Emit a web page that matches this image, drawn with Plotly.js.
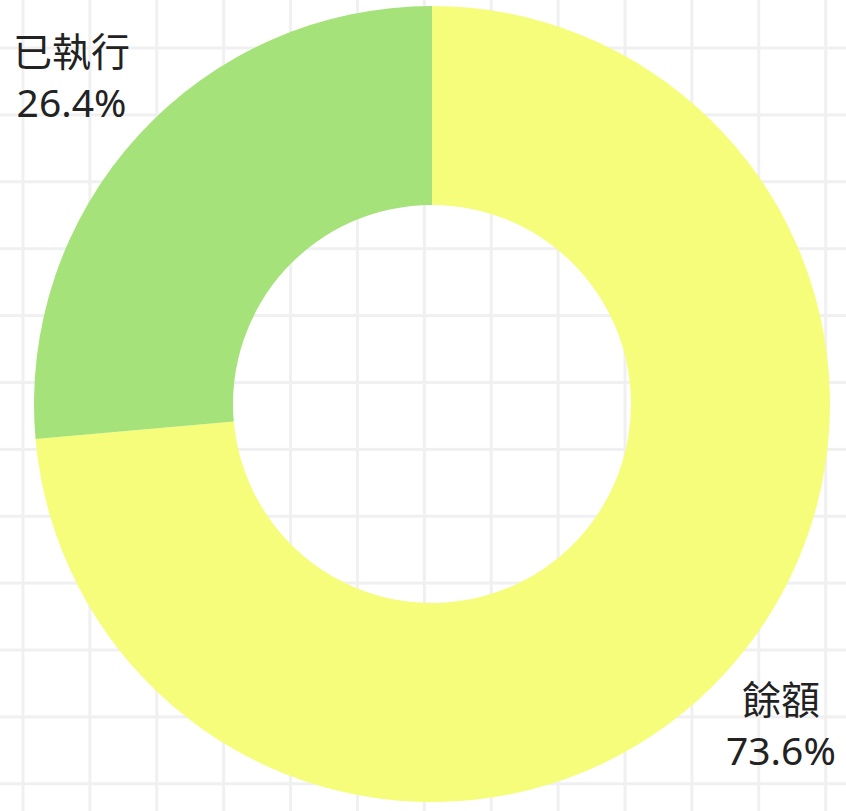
<!DOCTYPE html>
<html>
<head>
<meta charset="utf-8">
<script src="https://cdn.plot.ly/plotly-3.0.1.min.js"></script>
<style>
  html, body { margin: 0; padding: 0; }
  body {
    width: 846px; height: 811px; overflow: hidden;
    background-color: #ffffff;
    background-image:
      linear-gradient(to bottom, #f0f0f0 3px, transparent 3px),
      linear-gradient(to right, #f0f0f0 3px, transparent 3px);
    background-size: 66.9px 66.9px;
    background-position: 21.5px 46.5px;
  }
  #chart { width: 846px; height: 811px; }
</style>
</head>
<body>
<div id="chart"></div>
<script>
const labels = ['餘額', '已執行'];
const values = [73.6, 26.4];
const colors = ['#f6fd7a', '#a6e27a'];

// label anchor positions (paper coordinates) for the outside labels
const labelPos = [
  { x: 0.939, y: 0.098 },
  { x: 0.0477, y: 0.912 }
];

const total = values.reduce((a, b) => a + b, 0);

const trace = {
  type: 'pie',
  labels: labels,
  values: values,
  hole: 0.5,
  sort: false,
  direction: 'clockwise',
  rotation: 0,
  marker: { colors: colors, line: { width: 0 } },
  textinfo: 'none',
  hoverinfo: 'none',
  showlegend: false,
  automargin: false
};

const annotations = labels.map((lab, i) => ({
  xref: 'paper', yref: 'paper',
  x: labelPos[i].x, y: labelPos[i].y,
  xanchor: 'center', yanchor: 'middle',
  align: 'center',
  showarrow: false,
  text: lab + '<br>' + (values[i] / total * 100).toFixed(1) + '%',
  font: { family: '"Noto Sans", "Noto Sans CJK TC", sans-serif', size: 39, color: '#222222' }
}));

const layout = {
  width: 846,
  height: 811,
  margin: { l: 34, r: 16, t: 6, b: 9 },
  paper_bgcolor: 'rgba(0,0,0,0)',
  plot_bgcolor: 'rgba(0,0,0,0)',
  showlegend: false,
  annotations: annotations
};

Plotly.newPlot('chart', [trace], layout, { displayModeBar: false, staticPlot: true });
</script>
</body>
</html>
